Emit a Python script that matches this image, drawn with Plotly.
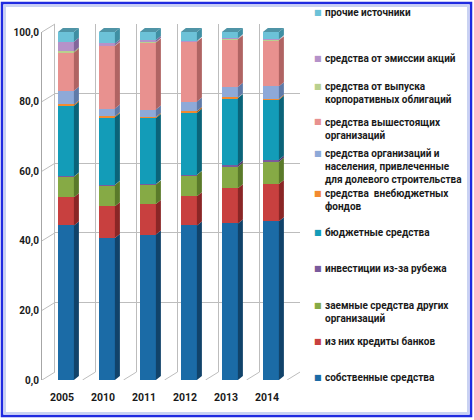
import plotly.graph_objects as go

# years on the x axis
years = ["2005", "2010", "2011", "2012", "2013", "2014"]

# shares of each source, % (bottom of the stack first)
own_funds = [44.4, 40.8, 41.8, 44.4, 45.0, 45.6]
bank_loans = [8.1, 9.1, 8.8, 8.4, 10.1, 10.7]
other_loans = [5.9, 6.1, 5.6, 6.1, 6.2, 6.4]
foreign_inv = [0.1, 0.1, 0.1, 0.1, 0.6, 0.6]
budget = [20.3, 19.4, 19.0, 17.8, 19.1, 17.2]
offbudget = [0.4, 0.3, 0.3, 0.5, 0.2, 0.3]
shared_constr = [3.9, 2.2, 2.1, 2.7, 3.1, 3.6]
higher_orgs = [11.0, 18.0, 19.3, 17.2, 13.6, 13.2]
bonds = [0.3, 0.1, 0.1, 0.1, 0.1, 0.1]
shares = [2.8, 0.6, 0.6, 0.2, 0.2, 0.2]
other = [2.8, 3.3, 2.3, 2.5, 1.8, 2.1]

names = ["собственные средства", "из них кредиты банков",
         "заемные средства других<br>организаций", "инвестиции из-за рубежа",
         "бюджетные средства", "средства  внебюджетных<br>фондов",
         "средства организаций и<br>населения, привлеченные<br>для долевого строительства",
         "средства вышестоящих<br>организаций",
         "средства от выпуска<br>корпоративных облигаций",
         "средства от эмиссии акций", "прочие источники"]
series = [own_funds, bank_loans, other_loans, foreign_inv, budget, offbudget,
          shared_constr, higher_orgs, bonds, shares, other]

front = ["#1B6BA6", "#C8403F", "#86AA45", "#7A5A9C", "#139CB8", "#F28A30",
         "#8EA9D8", "#E8918F", "#B9D08E", "#B592C9", "#6CC2D8"]
side = ["#11436A", "#8A2626", "#5A7A2A", "#50386A", "#0B6479", "#B05F18",
        "#5F7AA8", "#B06463", "#8AA063", "#82669A", "#3F8FA3"]
cap_color = "#4F94A6"

# legend line centres (pixels from top) for each entry, bottom entry first
legend_y = [377, 341, 305, 268, 232, 193, 153, 122, 86, 58, 12]

ticks_y = [0, 20, 40, 60, 80, 100]
wall_x = [0.5, 1.5, 2.5, 3.5, 4.5]

FONT = "Roboto, 'Noto Sans', sans-serif"
TXT = "#1a1a1a"
GRID = "#BDBDBD"

W, H = 474, 420
ML, MR, MT, MB = 42, 174, 16, 40
PW, PH = W - ML - MR, H - MT - MB

xl, bw = -0.1, 0.39          # bar front face, relative to category
dx, dy = 0.122, 1.15         # depth offset of the pseudo-3D faces
DX, DY = 13, 8               # depth of the back wall, pixels
idx = list(range(len(years)))

fig = go.Figure()

# empty traces so the wall and the front value axis get drawn
fig.add_trace(go.Scatter(x=[None], y=[None], xaxis="x", yaxis="y", showlegend=False,
                         hoverinfo="skip"))
fig.add_trace(go.Scatter(x=[None], y=[None], xaxis="x3", yaxis="y3", showlegend=False,
                         hoverinfo="skip"))

base = [0.0] * len(years)
for k, vals in enumerate(series):
    fig.add_trace(go.Bar(x=idx, y=vals, offset=xl, width=bw, marker_color=front[k],
                         marker_line_width=0, name=names[k].replace("<br>", " "),
                         xaxis="x2", yaxis="y2", showlegend=False))
    xs, ys = [], []
    for i in idx:
        b, t = base[i], base[i] + vals[i]
        xr = i + xl + bw
        xs += [xr, xr + dx, xr + dx, xr, None]
        ys += [b, b + dy, t + dy, t, None]
    fig.add_trace(go.Scatter(x=xs, y=ys, fill="toself", fillcolor=side[k], mode="lines",
                             line=dict(width=0), hoverinfo="skip", showlegend=False,
                             xaxis="x2", yaxis="y2"))
    base = [base[i] + vals[i] for i in idx]

# top caps
xs, ys = [], []
for i in idx:
    t = base[i]
    xs += [i + xl, i + xl + bw, i + xl + bw + dx, i + xl + dx, None]
    ys += [t, t, t + dy, t + dy, None]
fig.add_trace(go.Scatter(x=xs, y=ys, fill="toself", fillcolor=cap_color, mode="lines",
                         line=dict(width=0), hoverinfo="skip", showlegend=False,
                         xaxis="x2", yaxis="y2"))

# side wall diagonals from the value axis to the back wall
for v in ticks_y:
    fig.add_shape(type="line", xref="x2", yref="y2", xsizemode="pixel", ysizemode="pixel",
                  xanchor=-0.488, yanchor=v, x0=0, x1=DX, y0=0, y1=DY,
                  line=dict(color=GRID, width=1), layer="below")
# floor diagonals
for xv in wall_x + [5.49]:
    fig.add_shape(type="line", xref="x2", yref="y2", xsizemode="pixel", ysizemode="pixel",
                  xanchor=xv, yanchor=0, x0=0, x1=DX, y0=0, y1=DY,
                  line=dict(color=GRID, width=1), layer="below")

# legend drawn as annotations, like the Excel layout
LH = 14.5
for k in range(len(series)):
    fig.add_annotation(x=(323 - ML) / PW, y=(H - MB - legend_y[k] + LH / 2) / PH,
                       xref="paper", yref="paper",
                       text="<b>" + names[k].replace("<br>", "</b><br><b>") + "</b>",
                       showarrow=False, xanchor="left", yanchor="top", align="left",
                       font=dict(family=FONT, size=10, color=TXT))
    fig.add_annotation(x=(318 - ML) / PW, y=(H - MB - legend_y[k]) / PH, xref="paper",
                       yref="paper", text="■", showarrow=False, xanchor="center",
                       yanchor="middle", font=dict(family="DejaVu Sans", size=8, color=front[k]))

# blue frame round the picture
for x0, y0, x1, y1, c, w in [(2, 3, 471, 416, "#1F2BE0", 2.5), (5, 6, 468, 413, "#C9D2F2", 2)]:
    fig.add_shape(type="rect", xref="paper", yref="paper", layer="above",
                  x0=(x0 - ML) / PW, x1=(x1 - ML) / PW,
                  y0=(H - MB - y1) / PH, y1=(H - MB - y0) / PH,
                  line=dict(color=c, width=w))

fig.update_layout(
    width=W, height=H,
    margin=dict(l=ML, r=MR, t=MT, b=MB),
    paper_bgcolor="white", plot_bgcolor="rgba(0,0,0,0)",
    barmode="stack", bargap=0, showlegend=False,
    font=dict(family=FONT, color=TXT),
    # back wall
    xaxis=dict(domain=[DX / PW, 1], range=[-0.49, 5.49], anchor="y",
               tickvals=wall_x, showgrid=True, gridcolor=GRID,
               showticklabels=False, ticks="", zeroline=False, showline=False),
    yaxis=dict(domain=[DY / PH, (PH - DY) / PH], range=[0, 100], anchor="x",
               tickvals=ticks_y, showgrid=True, gridcolor=GRID,
               showticklabels=False, ticks="", zeroline=False,
               showline=True, linecolor=GRID),
    # bars
    xaxis2=dict(domain=[0, 1], range=[-0.488, 5.805], anchor="y2",
                tickvals=idx, ticktext=["<b>%s</b>" % y for y in years],
                showgrid=False, zeroline=False, ticks="", ticklabelstandoff=9,
                tickfont=dict(family=FONT, size=10.5, color=TXT)),
    yaxis2=dict(domain=[0, 1], range=[0, PH / 3.48], anchor="x2", visible=False),
    # front value axis, comma as decimal mark
    xaxis3=dict(domain=[0, 0.02], anchor="y3", visible=False),
    yaxis3=dict(domain=[0, 348 / PH], range=[0, 100], anchor="x3",
                tickvals=ticks_y,
                ticktext=["<b>%s</b>" % ("%.1f" % v).replace(".", ",") for v in ticks_y],
                showgrid=False, zeroline=False, showline=True, linecolor="#A6A6A6",
                ticks="", tickfont=dict(family=FONT, size=10, color=TXT)),
)

fig.write_html("out.html", config={"displayModeBar": False},
               post_script="document.body.style.margin='0';")
